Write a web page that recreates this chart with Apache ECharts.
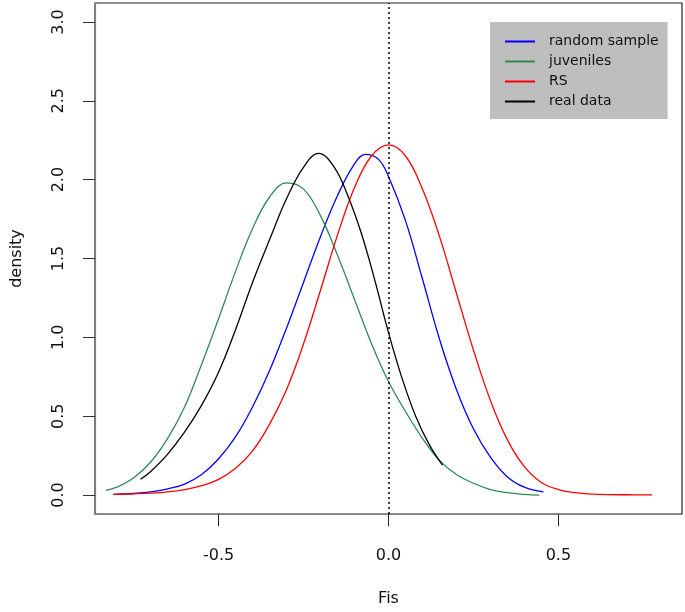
<!DOCTYPE html>
<html>
<head>
<meta charset="utf-8">
<script src="https://cdn.jsdelivr.net/npm/echarts@6/dist/echarts.min.js"></script>
<style>
html,body{margin:0;padding:0;background:#fff;}
#chart{width:685px;height:612px;}
</style>
</head>
<body>
<div id="chart"></div>
<script>
// ---- data ----
var seriesNames = ['random sample', 'juveniles', 'RS', 'real data'];
var seriesColors = ['#0000ff', '#2e8b57', '#ff0000', '#000000'];

var randomX = [-0.81, -0.75, -0.70, -0.65, -0.60, -0.55, -0.50, -0.45, -0.40, -0.35, -0.30, -0.25, -0.20, -0.15, -0.10, -0.068, -0.03, 0.00, 0.05, 0.10, 0.15, 0.20, 0.25, 0.30, 0.35, 0.40, 0.456];
var randomY = [0.005, 0.01, 0.02, 0.04, 0.07, 0.13, 0.23, 0.37, 0.56, 0.79, 1.06, 1.35, 1.64, 1.90, 2.10, 2.16, 2.13, 2.02, 1.74, 1.37, 0.99, 0.67, 0.42, 0.24, 0.115, 0.05, 0.02];

var juvX = [-0.832, -0.80, -0.75, -0.70, -0.65, -0.60, -0.55, -0.50, -0.45, -0.40, -0.35, -0.30, -0.25, -0.20, -0.15, -0.10, -0.05, 0.00, 0.05, 0.10, 0.15, 0.20, 0.25, 0.30, 0.35, 0.40, 0.444];
var juvY = [0.03, 0.05, 0.11, 0.21, 0.36, 0.56, 0.83, 1.12, 1.42, 1.69, 1.89, 1.98, 1.94, 1.77, 1.52, 1.24, 0.96, 0.72, 0.53, 0.36, 0.22, 0.13, 0.075, 0.035, 0.015, 0.005, 0.0];

var rsX = [-0.81, -0.75, -0.70, -0.65, -0.60, -0.55, -0.50, -0.45, -0.40, -0.35, -0.30, -0.25, -0.20, -0.15, -0.10, -0.05, 0.00, 0.05, 0.10, 0.15, 0.20, 0.25, 0.30, 0.35, 0.40, 0.45, 0.50, 0.55, 0.60, 0.65, 0.70, 0.776];
var rsY = [0.005, 0.008, 0.012, 0.02, 0.035, 0.06, 0.10, 0.17, 0.28, 0.45, 0.67, 0.96, 1.30, 1.65, 1.95, 2.15, 2.22, 2.15, 1.94, 1.64, 1.28, 0.92, 0.60, 0.35, 0.18, 0.08, 0.035, 0.015, 0.006, 0.003, 0.002, 0.001];

var realX = [-0.73, -0.70, -0.65, -0.60, -0.55, -0.50, -0.45, -0.40, -0.35, -0.30, -0.25, -0.206, -0.16, -0.12, -0.08, -0.04, 0.00, 0.04, 0.08, 0.12, 0.159];
var realY = [0.10, 0.15, 0.26, 0.40, 0.57, 0.78, 1.05, 1.35, 1.62, 1.88, 2.08, 2.167, 2.08, 1.90, 1.66, 1.36, 1.03, 0.74, 0.50, 0.32, 0.19];

var xTicks = [-0.5, 0.0, 0.5];
var yTicks = [0.0, 0.5, 1.0, 1.5, 2.0, 2.5, 3.0];
var refLineX = 0;
var xTitle = 'Fis';
var yTitle = 'density';

// ---- build chart ----
function pairs(xs, ys) { return xs.map(function (x, i) { return [x, ys[i]]; }); }
var allX = [randomX, juvX, rsX, realX];
var allY = [randomY, juvY, rsY, realY];

var FONT = 'DejaVu Sans';
var series = seriesNames.map(function (name, k) {
  var s = {
    name: name,
    type: 'line',
    data: pairs(allX[k], allY[k]),
    smooth: 0.4,
    showSymbol: false,
    symbol: 'none',
    lineStyle: { color: seriesColors[k], width: 1.3 },
    itemStyle: { color: seriesColors[k] },
    silent: true,
    animation: false
  };
  if (k === 3) {
    s.markLine = {
      silent: true,
      symbol: ['none', 'none'],
      label: { show: false },
      lineStyle: { color: '#000', type: [2, 3], width: 1.5 },
      data: [{ xAxis: refLineX }],
      animation: false
    };
  }
  return s;
});

var chart = echarts.init(document.getElementById('chart'), null, { renderer: 'canvas' });
chart.setOption({
  animation: false,
  backgroundColor: '#fff',
  grid: { left: 95, right: 3, top: 3, bottom: 98, show: true, borderColor: '#222', borderWidth: 1.2, backgroundColor: 'transparent' },
  legend: {
    data: seriesNames,
    orient: 'vertical',
    left: 490,
    top: 22,
    backgroundColor: '#bebebe',
    padding: [12, 9, 10, 15],
    itemGap: 5,
    itemWidth: 30,
    itemHeight: 2,
    icon: 'rect',
    textStyle: { fontFamily: FONT, fontSize: 14, lineHeight: 15, color: '#111', padding: [0, 0, 0, 9] },
    selectedMode: false
  },
  xAxis: {
    type: 'value',
    min: -0.864,
    max: 0.864,
    name: xTitle,
    nameLocation: 'middle',
    nameGap: 77,
    nameTextStyle: { fontFamily: FONT, fontSize: 16, color: '#111' },
    axisLine: { show: true, onZero: false, lineStyle: { color: '#808080', width: 1.2 } },
    axisTick: { show: true, length: 12, customValues: xTicks, lineStyle: { color: '#222' } },
    axisLabel: { customValues: xTicks, margin: 34, fontFamily: FONT, fontSize: 16, color: '#111', formatter: function (v) { return v.toFixed(1); } },
    splitLine: { show: false }
  },
  yAxis: {
    type: 'value',
    min: -0.12,
    max: 3.12,
    name: yTitle,
    nameLocation: 'middle',
    nameGap: 70,
    nameRotate: 90,
    nameTextStyle: { fontFamily: FONT, fontSize: 16, color: '#111' },
    axisLine: { show: true, onZero: false, lineStyle: { color: '#808080', width: 1.2 } },
    axisTick: { show: true, length: 12, customValues: yTicks, lineStyle: { color: '#333' } },
    axisLabel: { customValues: yTicks, rotate: 90, margin: 28, fontFamily: FONT, fontSize: 16, color: '#111', formatter: function (v) { return v.toFixed(1); } },
    splitLine: { show: false }
  },
  series: series
});
</script>
</body>
</html>
